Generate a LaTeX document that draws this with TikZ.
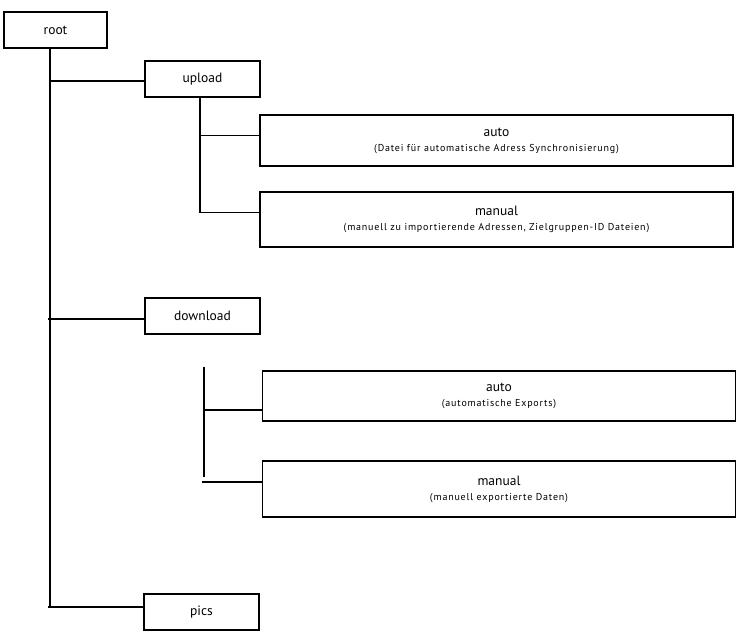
\documentclass[tikz,border=0pt]{standalone}
\usepackage{fontspec}
\setmainfont{PT Sans}
\begin{document}
\begin{tikzpicture}[x=1pt,y=-1pt,
  box/.style={draw,line width=1.3pt,rectangle,inner sep=0pt,align=center,font=\fontsize{13.5}{15}\selectfont},
  small/.style={box,minimum width=115pt,minimum height=36pt},
  wide/.style={box,minimum width=473pt},
  conn/.style={line width=1.3pt}]
\useasboundingbox (0,0) rectangle (742,635);
\newcommand{\sub}[1]{\\[0pt]{\fontsize{10}{11}\selectfont\addfontfeature{LetterSpace=8}#1}}
\node[box,minimum width=103pt,minimum height=36pt] (root) at (55.5,30) {root};
\node[small] (upload) at (202.5,79) {upload};
\node[wide,minimum height=51pt] (auto1) at (496.5,140.5) {auto\sub{(Datei für automatische Adress Synchronisierung)}};
\node[wide,minimum height=55pt] (manual1) at (496.5,219.5) {manual\sub{(manuell zu importierende Adressen, Zielgruppen-ID Dateien)}};
\node[small] (download) at (202.5,316) {download};
\node[wide,minimum height=50pt] (auto2) at (499,396) {auto\sub{(automatische Exports)}};
\node[wide,minimum height=56pt] (manual2) at (499,489) {manual\sub{(manuell exportierte Daten)}};
\node[small] (pics) at (201.5,612) {pics};
\coordinate (tr) at (50,48);
\coordinate (tl) at (48,48);
\coordinate (ut) at (200,97);
\coordinate (dt) at (204,367);
\coordinate (db) at (204,477);
\coordinate (dl) at (202,477);
\draw[conn] (root.south -| tr) -- ([yshift=5pt]tr |- pics.west);
\draw[conn] ([yshift=-2pt]tr |- upload.west) -- ([yshift=-2pt]upload.west);
\draw[conn] ([yshift=-3pt]tl |- download.west) -- ([yshift=-3pt]download.west);
\draw[conn] ([yshift=5pt]tl |- pics.west) -- ([yshift=5pt]pics.west);
\draw[conn] (upload.south -| ut) |- ([yshift=7pt]manual1.west);
\draw[conn] ([yshift=5pt]ut |- auto1.west) -- ([yshift=5pt]auto1.west);
\draw[conn] (dt) -- (db);
\draw[conn] ([yshift=-14pt]dt |- auto2.west) -- ([yshift=-14pt]auto2.west);
\draw[conn] ([yshift=7pt]dl |- manual2.west) -- ([yshift=7pt]manual2.west);
\end{tikzpicture}
\end{document}
